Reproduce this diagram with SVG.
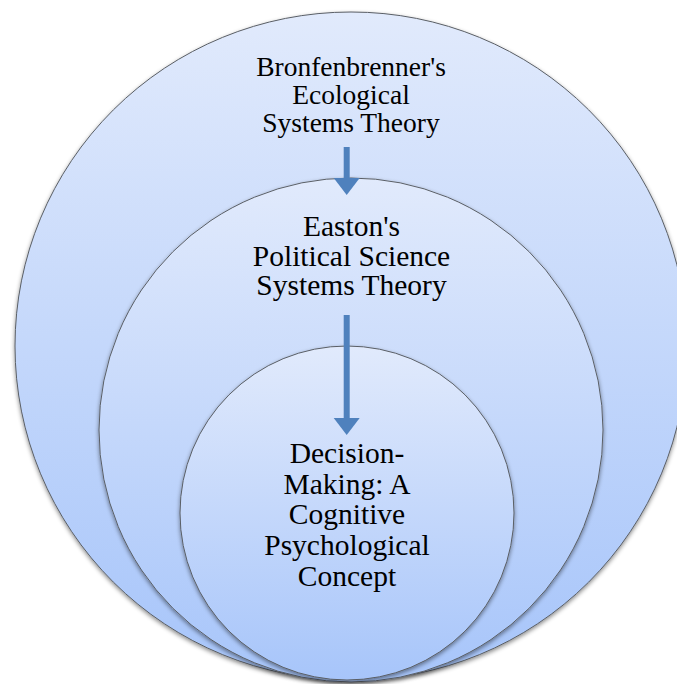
<svg xmlns="http://www.w3.org/2000/svg" width="677" height="684" viewBox="0 0 677 684">
<defs>
<linearGradient id="g" x1="0" y1="0" x2="0" y2="1">
<stop offset="0" stop-color="#e1eafc"/>
<stop offset="1" stop-color="#a7c5fa"/>
</linearGradient>
<filter id="sh" x="-10%" y="-10%" width="120%" height="120%">
<feDropShadow dx="0" dy="2" stdDeviation="2" flood-color="#000" flood-opacity="0.45"/>
</filter>
<marker id="ah" viewBox="0 0 26 17" refX="13" refY="0" markerWidth="26" markerHeight="17" markerUnits="userSpaceOnUse" orient="auto-start-reverse">
<path d="M0,0 L26,0 L13,17 Z" fill="#4f81bd"/>
</marker>
</defs>
<style>
.c{fill:url(#g);stroke:#5a5f66;stroke-width:1;filter:url(#sh)}
.t{font-family:"Liberation Serif","Times New Roman",serif;fill:#000;text-anchor:middle}
.a{stroke:#4f81bd;stroke-width:6;fill:none}
</style>
<g id="outer">
<ellipse class="c" cx="351" cy="346" rx="336" ry="334"/>
<text class="t" font-size="27.5"><tspan x="351" y="76">Bronfenbrenner's</tspan><tspan x="351" y="104">Ecological</tspan><tspan x="351" y="132">Systems Theory</tspan></text>
</g>
<g id="middle">
<circle class="c" cx="351" cy="430" r="252"/>
<text class="t" font-size="29.5"><tspan x="351.5" y="236">Easton's</tspan><tspan x="351.5" y="266">Political Science</tspan><tspan x="351.5" y="295">Systems Theory</tspan></text>
</g>
<g id="inner">
<circle class="c" cx="347" cy="513" r="167"/>
<text class="t" font-size="29.5"><tspan x="347" y="463">Decision-</tspan><tspan x="347" y="494">Making: A</tspan><tspan x="347" y="524">Cognitive</tspan><tspan x="347" y="555">Psychological</tspan><tspan x="347" y="585.5">Concept</tspan></text>
</g>
<g id="connectors">
<path class="a" d="M346.7,147 V178"/>
<path d="M333.7,178 H359.7 L346.7,195 Z" fill="#4f81bd"/>
<path class="a" d="M346.7,315 V418"/>
<path d="M333.7,418 H359.7 L346.7,435 Z" fill="#4f81bd"/>
</g>
</svg>
